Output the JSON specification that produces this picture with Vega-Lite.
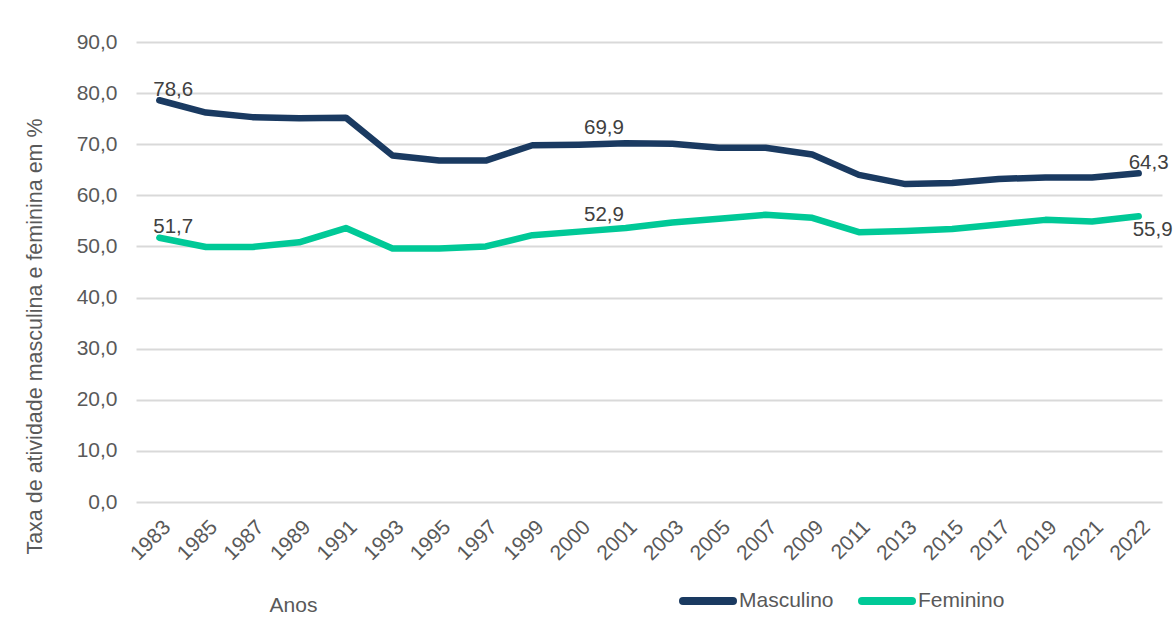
{
  "$schema": "https://vega.github.io/schema/vega-lite/v6.json",
  "width": 1026,
  "height": 460,
  "autosize": {"type": "none"},
  "padding": {"left": 136, "top": 42, "right": 13, "bottom": 122},
  "background": "white",
  "config": {
    "view": {"stroke": null},
    "font": "Liberation Sans",
    "locale": {"number": {"decimal": ",", "thousands": ".", "grouping": [3], "currency": ["R$", ""]}}
  },
  "data": {
    "values": [
      {"ano": "1983", "sexo": "Masculino", "taxa": 78.6},
      {"ano": "1985", "sexo": "Masculino", "taxa": 76.2},
      {"ano": "1987", "sexo": "Masculino", "taxa": 75.3},
      {"ano": "1989", "sexo": "Masculino", "taxa": 75.1},
      {"ano": "1991", "sexo": "Masculino", "taxa": 75.2},
      {"ano": "1993", "sexo": "Masculino", "taxa": 67.8},
      {"ano": "1995", "sexo": "Masculino", "taxa": 66.8},
      {"ano": "1997", "sexo": "Masculino", "taxa": 66.8},
      {"ano": "1999", "sexo": "Masculino", "taxa": 69.8},
      {"ano": "2000", "sexo": "Masculino", "taxa": 69.9},
      {"ano": "2001", "sexo": "Masculino", "taxa": 70.2},
      {"ano": "2003", "sexo": "Masculino", "taxa": 70.1},
      {"ano": "2005", "sexo": "Masculino", "taxa": 69.3},
      {"ano": "2007", "sexo": "Masculino", "taxa": 69.3},
      {"ano": "2009", "sexo": "Masculino", "taxa": 68.0},
      {"ano": "2011", "sexo": "Masculino", "taxa": 64.0},
      {"ano": "2013", "sexo": "Masculino", "taxa": 62.2},
      {"ano": "2015", "sexo": "Masculino", "taxa": 62.4},
      {"ano": "2017", "sexo": "Masculino", "taxa": 63.2},
      {"ano": "2019", "sexo": "Masculino", "taxa": 63.5},
      {"ano": "2021", "sexo": "Masculino", "taxa": 63.5},
      {"ano": "2022", "sexo": "Masculino", "taxa": 64.3},
      {"ano": "1983", "sexo": "Feminino", "taxa": 51.7},
      {"ano": "1985", "sexo": "Feminino", "taxa": 49.9},
      {"ano": "1987", "sexo": "Feminino", "taxa": 49.9},
      {"ano": "1989", "sexo": "Feminino", "taxa": 50.8},
      {"ano": "1991", "sexo": "Feminino", "taxa": 53.6},
      {"ano": "1993", "sexo": "Feminino", "taxa": 49.6},
      {"ano": "1995", "sexo": "Feminino", "taxa": 49.6},
      {"ano": "1997", "sexo": "Feminino", "taxa": 50.0},
      {"ano": "1999", "sexo": "Feminino", "taxa": 52.2},
      {"ano": "2000", "sexo": "Feminino", "taxa": 52.9},
      {"ano": "2001", "sexo": "Feminino", "taxa": 53.6},
      {"ano": "2003", "sexo": "Feminino", "taxa": 54.7},
      {"ano": "2005", "sexo": "Feminino", "taxa": 55.4},
      {"ano": "2007", "sexo": "Feminino", "taxa": 56.2},
      {"ano": "2009", "sexo": "Feminino", "taxa": 55.6},
      {"ano": "2011", "sexo": "Feminino", "taxa": 52.8},
      {"ano": "2013", "sexo": "Feminino", "taxa": 53.0},
      {"ano": "2015", "sexo": "Feminino", "taxa": 53.4},
      {"ano": "2017", "sexo": "Feminino", "taxa": 54.3},
      {"ano": "2019", "sexo": "Feminino", "taxa": 55.2},
      {"ano": "2021", "sexo": "Feminino", "taxa": 54.9},
      {"ano": "2022", "sexo": "Feminino", "taxa": 55.9}
    ]
  },
  "encoding": {
    "x": {
      "field": "ano",
      "type": "ordinal",
      "scale": {"type": "point", "padding": 0.5},
      "axis": {
        "title": "Anos",
        "labelAngle": -45,
        "labelFontSize": 21,
        "labelColor": "#595959",
        "labelPadding": 14,
        "ticks": false,
        "domain": false,
        "grid": false,
        "titleX": 157,
        "titleY": 103,
        "titleBaseline": "middle",
        "titleAlign": "center",
        "titleFontSize": 21,
        "titleFontWeight": "normal",
        "titleColor": "#595959"
      }
    },
    "y": {
      "field": "taxa",
      "type": "quantitative",
      "scale": {"domain": [0, 90], "nice": false},
      "axis": {
        "title": "Taxa de atividade masculina e feminina em %",
        "values": [0, 10, 20, 30, 40, 50, 60, 70, 80, 90],
        "format": ".1f",
        "labelFontSize": 21,
        "labelColor": "#595959",
        "labelPadding": 19,
        "ticks": false,
        "domain": false,
        "gridColor": "#d9d9d9",
        "gridWidth": 2,
        "titleFontSize": 21.5,
        "titleFontWeight": "normal",
        "titleColor": "#595959",
        "titleX": -90,
        "titleY": 294
      }
    }
  },
  "layer": [
    {
      "mark": {"type": "line", "strokeWidth": 6.5, "strokeCap": "round", "strokeJoin": "round"},
      "encoding": {
        "color": {
          "field": "sexo",
          "type": "nominal",
          "scale": {"domain": ["Masculino", "Feminino"], "range": ["#1a3a61", "#00c997"]},
          "legend": {
            "title": null,
            "orient": "none",
            "legendX": 543,
            "legendY": 530,
            "direction": "horizontal",
            "symbolType": "stroke",
            "symbolSize": 2500,
            "symbolStrokeWidth": 8,
            "labelFontSize": 21,
            "labelColor": "#595959",
            "labelOffset": 2,
            "columnPadding": 12,
            "padding": 0,
            "symbolOpacity": 1,
            "encode": {"symbols": {"update": {"strokeCap": {"value": "round"}}}}
          }
        }
      }
    },
    {
      "transform": [{"filter": "datum.ano == '1983'"}],
      "mark": {"type": "text", "align": "left", "baseline": "alphabetic", "dx": -6, "dy": -4.5, "fontSize": 20.5, "color": "#404040"},
      "encoding": {"text": {"field": "taxa", "type": "quantitative", "format": ".1f"}}
    },
    {
      "transform": [{"filter": "datum.ano == '2000'"}],
      "mark": {"type": "text", "align": "left", "baseline": "alphabetic", "dx": 5, "dy": -10.5, "fontSize": 20.5, "color": "#404040"},
      "encoding": {"text": {"field": "taxa", "type": "quantitative", "format": ".1f"}}
    },
    {
      "transform": [{"filter": "datum.ano == '2022' && datum.sexo == 'Masculino'"}],
      "mark": {"type": "text", "align": "left", "baseline": "alphabetic", "dx": -10, "dy": -4, "fontSize": 20.5, "color": "#404040"},
      "encoding": {"text": {"field": "taxa", "type": "quantitative", "format": ".1f"}}
    },
    {
      "transform": [{"filter": "datum.ano == '2022' && datum.sexo == 'Feminino'"}],
      "mark": {"type": "text", "align": "left", "baseline": "alphabetic", "dx": -6, "dy": 20, "fontSize": 20.5, "color": "#404040"},
      "encoding": {"text": {"field": "taxa", "type": "quantitative", "format": ".1f"}}
    }
  ]
}
